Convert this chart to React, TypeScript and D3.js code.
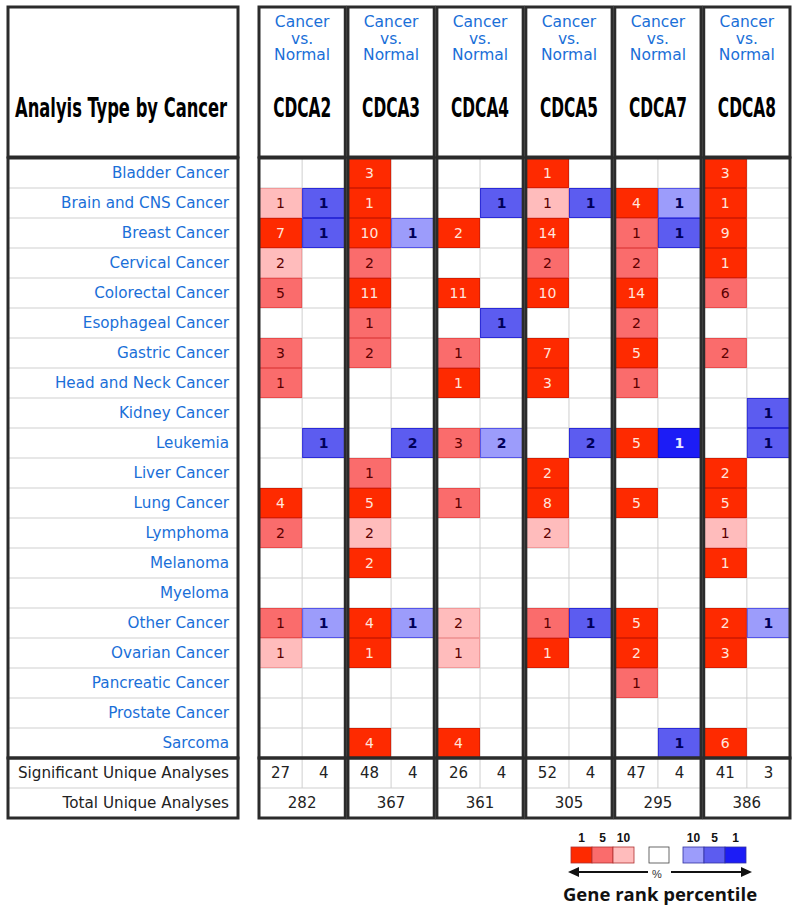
import React, { useLayoutEffect, useRef, useState } from "react";
import * as d3 from "d3";

const cancers = [
  "Bladder Cancer", "Brain and CNS Cancer", "Breast Cancer", "Cervical Cancer",
  "Colorectal Cancer", "Esophageal Cancer", "Gastric Cancer", "Head and Neck Cancer",
  "Kidney Cancer", "Leukemia", "Liver Cancer", "Lung Cancer", "Lymphoma", "Melanoma",
  "Myeloma", "Other Cancer", "Ovarian Cancer", "Pancreatic Cancer", "Prostate Cancer", "Sarcoma",
];
const genes = ["CDCA2", "CDCA3", "CDCA4", "CDCA5", "CDCA7", "CDCA8"];

// over-expression counts (0 = none) and shade level (1 = top 1%, 2 = 5%, 3 = 10%)
const upCounts = [
  [0, 1, 7, 2, 5, 0, 3, 1, 0, 0, 0, 4, 2, 0, 0, 1, 1, 0, 0, 0],
  [3, 1, 10, 2, 11, 1, 2, 0, 0, 0, 1, 5, 2, 2, 0, 4, 1, 0, 0, 4],
  [0, 0, 2, 0, 11, 0, 1, 1, 0, 3, 0, 1, 0, 0, 0, 2, 1, 0, 0, 4],
  [1, 1, 14, 2, 10, 0, 7, 3, 0, 0, 2, 8, 2, 0, 0, 1, 1, 0, 0, 0],
  [0, 4, 1, 2, 14, 2, 5, 1, 0, 5, 0, 5, 0, 0, 0, 5, 2, 1, 0, 0],
  [3, 1, 9, 1, 6, 0, 2, 0, 0, 0, 2, 5, 1, 1, 0, 2, 3, 0, 0, 6],
];
const upLevels = [
  [0, 3, 1, 3, 2, 0, 2, 2, 0, 0, 0, 1, 2, 0, 0, 2, 3, 0, 0, 0],
  [1, 1, 1, 2, 1, 2, 2, 0, 0, 0, 2, 1, 3, 1, 0, 1, 1, 0, 0, 1],
  [0, 0, 1, 0, 1, 0, 2, 1, 0, 2, 0, 2, 0, 0, 0, 3, 3, 0, 0, 1],
  [1, 3, 1, 2, 1, 0, 1, 1, 0, 0, 1, 1, 3, 0, 0, 2, 1, 0, 0, 0],
  [0, 1, 2, 2, 1, 2, 1, 2, 0, 1, 0, 1, 0, 0, 0, 1, 1, 2, 0, 0],
  [1, 1, 1, 1, 2, 0, 2, 0, 0, 0, 1, 1, 3, 1, 0, 1, 1, 0, 0, 1],
];
// under-expression counts and shade level
const downCounts = [
  [0, 1, 1, 0, 0, 0, 0, 0, 0, 1, 0, 0, 0, 0, 0, 1, 0, 0, 0, 0],
  [0, 0, 1, 0, 0, 0, 0, 0, 0, 2, 0, 0, 0, 0, 0, 1, 0, 0, 0, 0],
  [0, 1, 0, 0, 0, 1, 0, 0, 0, 2, 0, 0, 0, 0, 0, 0, 0, 0, 0, 0],
  [0, 1, 0, 0, 0, 0, 0, 0, 0, 2, 0, 0, 0, 0, 0, 1, 0, 0, 0, 0],
  [0, 1, 1, 0, 0, 0, 0, 0, 0, 1, 0, 0, 0, 0, 0, 0, 0, 0, 0, 1],
  [0, 0, 0, 0, 0, 0, 0, 0, 1, 1, 0, 0, 0, 0, 0, 1, 0, 0, 0, 0],
];
const downLevels = [
  [0, 2, 2, 0, 0, 0, 0, 0, 0, 2, 0, 0, 0, 0, 0, 3, 0, 0, 0, 0],
  [0, 0, 3, 0, 0, 0, 0, 0, 0, 2, 0, 0, 0, 0, 0, 3, 0, 0, 0, 0],
  [0, 2, 0, 0, 0, 2, 0, 0, 0, 3, 0, 0, 0, 0, 0, 0, 0, 0, 0, 0],
  [0, 2, 0, 0, 0, 0, 0, 0, 0, 2, 0, 0, 0, 0, 0, 2, 0, 0, 0, 0],
  [0, 3, 2, 0, 0, 0, 0, 0, 0, 1, 0, 0, 0, 0, 0, 0, 0, 0, 0, 2],
  [0, 0, 0, 0, 0, 0, 0, 0, 2, 2, 0, 0, 0, 0, 0, 3, 0, 0, 0, 0],
];
const sigUp = [27, 48, 26, 52, 47, 41];
const sigDown = [4, 4, 4, 4, 4, 3];
const totals = [282, 367, 361, 305, 295, 386];
const legendRedLabels = ["1", "5", "10"];
const legendBlueLabels = ["10", "5", "1"];

const RED = ["#ffffff", "#fe2a00", "#fa6c6c", "#ffbcbc"];
const RED_STROKE = ["none", "#d81c00", "#e84c4c", "#f29a9a"];
const BLUE = ["#ffffff", "#1c1cf6", "#5c5cf0", "#9c9cfb"];
const BLUE_STROKE = ["none", "#0c0cc8", "#2a2ad8", "#5555e8"];

const BLUE_TXT = "#1a6fd8";
const BORDER = "#2b2b2b";
const GRID = "#cfcfcf";
const SANS = "'DejaVu Sans', Verdana, sans-serif";
const COND = "'DejaVu Sans Condensed', 'DejaVu Sans', sans-serif";

// bold condensed title text squeezed horizontally to a target width
function FitText({ x, y, width, guess, children }: { x: number; y: number; width: number; guess: number; children: string }) {
  const ref = useRef<SVGTextElement>(null);
  const [s, setS] = useState(guess);
  useLayoutEffect(() => {
    if (ref.current) {
      const w = ref.current.getComputedTextLength();
      if (w > 0) setS(width / w);
    }
  }, [width]);
  return (
    <g transform={`translate(${x},${y}) scale(${s},1)`}>
      <text ref={ref} x={0} y={0} fontFamily={COND} fontWeight="bold" fontSize={27} fill="#000">
        {children}
      </text>
    </g>
  );
}

export default function App() {
  const W = 800, H = 910;
  const leftX0 = 8, leftX1 = 238;
  const headY0 = 7, headY1 = 157;
  const y = d3.scaleBand<string>().domain(cancers).range([158, 758]);
  const rh = y.step();
  const sigY = 758, totY = 788, botY = 818;
  const x = d3.scaleBand<string>().domain(genes).range([259, 790]).paddingInner(0.03);
  const bw = x.bandwidth();

  const legendX = d3.scaleBand<number>().domain([0, 1, 2]).range([571, 634]);
  const legendBX = d3.scaleBand<number>().domain([0, 1, 2]).range([683, 746]);

  return (
    <svg width={W} height={H} style={{ display: "block", position: "absolute", left: 0, top: 0 }}>
      <rect width={W} height={H} fill="#fff" />
      {/* left header */}
      <rect x={leftX0} y={headY0} width={leftX1 - leftX0} height={headY1 - headY0} fill="#fff" stroke={BORDER} strokeWidth={3} />
      <FitText x={15} y={117} width={212} guess={0.665}>Analyis Type by Cancer</FitText>
      {/* left body */}
      <g>
        {cancers.map((c, i) => (
          <g key={c}>
            {i > 0 && <line x1={leftX0} x2={leftX1} y1={y(c)!} y2={y(c)!} stroke={GRID} strokeWidth={1} />}
            <text x={229} y={y(c)! + rh / 2 + 5} textAnchor="end" fontFamily={SANS} fontSize={15.2} fill={BLUE_TXT}>
              {c}
            </text>
          </g>
        ))}
        <line x1={leftX0} x2={leftX1} y1={totY} y2={totY} stroke={GRID} strokeWidth={1} />
        <text x={229} y={sigY + rh / 2 + 5} textAnchor="end" fontFamily={SANS} fontSize={15.2} fill="#222">
          Significant Unique Analyses
        </text>
        <text x={229} y={totY + rh / 2 + 5} textAnchor="end" fontFamily={SANS} fontSize={15.2} fill="#222">
          Total Unique Analyses
        </text>
        <rect x={leftX0} y={158} width={leftX1 - leftX0} height={600} fill="none" stroke={BORDER} strokeWidth={3} />
        <rect x={leftX0} y={sigY} width={leftX1 - leftX0} height={botY - sigY} fill="none" stroke={BORDER} strokeWidth={3} />
      </g>

      {genes.map((g, gi) => {
        const x0 = x(g)!;
        const xm = x0 + bw / 2;
        const x1 = x0 + bw;
        const cx = x0 + bw / 2;
        return (
          <g key={g}>
            {/* header */}
            <rect x={x0} y={headY0} width={bw} height={headY1 - headY0} fill="#fff" stroke={BORDER} strokeWidth={3} />
            {["Cancer", "vs.", "Normal"].map((t, k) => (
              <text key={t} x={cx} y={27 + k * 16.5} textAnchor="middle" fontFamily={SANS} fontSize={15.5} fill={BLUE_TXT}>
                {t}
              </text>
            ))}
            <FitText x={cx - 29} y={117} width={58} guess={0.633}>{g}</FitText>
            {/* grid */}
            {cancers.map((c, i) =>
              i > 0 ? <line key={c} x1={x0} x2={x1} y1={y(c)!} y2={y(c)!} stroke={GRID} strokeWidth={1} /> : null
            )}
            <line x1={xm} x2={xm} y1={158} y2={totY} stroke={GRID} strokeWidth={1} />
            <line x1={x0} x2={x1} y1={totY} y2={totY} stroke={GRID} strokeWidth={1} />
            {/* cells */}
            {cancers.map((c, i) => {
              const up = upCounts[gi][i];
              const ul = upLevels[gi][i];
              const dn = downCounts[gi][i];
              const dl = downLevels[gi][i];
              const yy = y(c)!;
              return (
                <g key={c}>
                  {up > 0 && (
                    <g>
                      <rect x={x0 + 0.5} y={yy + 0.5} width={bw / 2 - 1} height={rh - 1} fill={RED[ul]} stroke={RED_STROKE[ul]} strokeWidth={1} />
                      <text x={x0 + bw / 4} y={yy + rh / 2 + 5} textAnchor="middle" fontFamily={SANS} fontSize={14} fill={ul === 1 ? "#ffe4dc" : "#5a0000"}>
                        {up}
                      </text>
                    </g>
                  )}
                  {dn > 0 && (
                    <g>
                      <rect x={xm + 0.5} y={yy + 0.5} width={bw / 2 - 1} height={rh - 1} fill={BLUE[dl]} stroke={BLUE_STROKE[dl]} strokeWidth={1} />
                      <text x={xm + bw / 4} y={yy + rh / 2 + 5} textAnchor="middle" fontFamily={SANS} fontSize={14} fontWeight="bold" fill={dl === 1 ? "#e8e8ff" : "#00005a"}>
                        {dn}
                      </text>
                    </g>
                  )}
                </g>
              );
            })}
            {/* summary rows */}
            <text x={x0 + bw / 4} y={sigY + rh / 2 + 5} textAnchor="middle" fontFamily={SANS} fontSize={15} fill="#222">{sigUp[gi]}</text>
            <text x={xm + bw / 4} y={sigY + rh / 2 + 5} textAnchor="middle" fontFamily={SANS} fontSize={15} fill="#222">{sigDown[gi]}</text>
            <text x={cx} y={totY + rh / 2 + 5} textAnchor="middle" fontFamily={SANS} fontSize={15} fill="#222">{totals[gi]}</text>
            {/* borders */}
            <rect x={x0} y={158} width={bw} height={600} fill="none" stroke={BORDER} strokeWidth={3} />
            <rect x={x0} y={sigY} width={bw} height={botY - sigY} fill="none" stroke={BORDER} strokeWidth={3} />
          </g>
        );
      })}

      {/* legend */}
      <g>
        {[0, 1, 2].map((k) => (
          <g key={"r" + k}>
            <rect x={legendX(k)!} y={847} width={legendX.bandwidth()} height={16} fill={RED[k + 1]} stroke="#b03030" strokeWidth={0.8} />
            <text x={legendX(k)! + legendX.bandwidth() / 2} y={842} textAnchor="middle" fontFamily="'Liberation Sans', Arial, sans-serif" fontWeight="bold" fontSize={12} fill="#111">
              {legendRedLabels[k]}
            </text>
          </g>
        ))}
        <rect x={649} y={847} width={20} height={16} fill="#fff" stroke="#444" strokeWidth={0.8} />
        {[0, 1, 2].map((k) => (
          <g key={"b" + k}>
            <rect x={legendBX(k)!} y={847} width={legendBX.bandwidth()} height={16} fill={BLUE[3 - k]} stroke="#3030a0" strokeWidth={0.8} />
            <text x={legendBX(k)! + legendBX.bandwidth() / 2} y={842} textAnchor="middle" fontFamily="'Liberation Sans', Arial, sans-serif" fontWeight="bold" fontSize={12} fill="#111">
              {legendBlueLabels[k]}
            </text>
          </g>
        ))}
        <line x1={574} x2={648} y1={872} y2={872} stroke="#111" strokeWidth={2} />
        <path d="M568,872 L579,867 L579,877 Z" fill="#111" />
        <line x1={671} x2={746} y1={872} y2={872} stroke="#111" strokeWidth={2} />
        <path d="M752,872 L741,867 L741,877 Z" fill="#111" />
        <text x={657} y={878} textAnchor="middle" fontFamily="'Liberation Sans', Arial, sans-serif" fontSize={11} fill="#333">%</text>
        <text x={660} y={901} textAnchor="middle" fontFamily="'Open Sans', 'Liberation Sans', sans-serif" fontWeight="bold" fontSize={18.5} fill="#111">
          Gene rank percentile
        </text>
      </g>
    </svg>
  );
}
